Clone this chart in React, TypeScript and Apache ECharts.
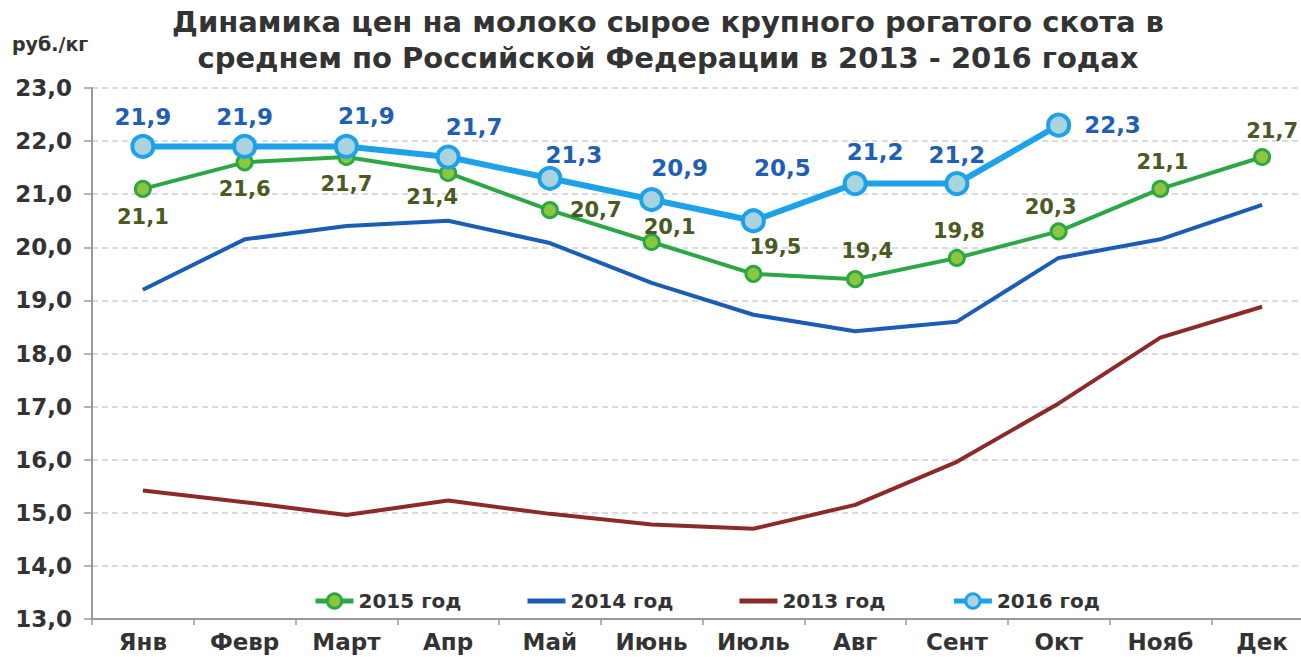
import React, { useEffect, useRef } from "react";
import * as echarts from "echarts";

const months = ["Янв", "Февр", "Март", "Апр", "Май", "Июнь", "Июль", "Авг", "Сент", "Окт", "Нояб", "Дек"];
const y2016 = [21.9, 21.9, 21.9, 21.7, 21.3, 20.9, 20.5, 21.2, 21.2, 22.3];
const y2015 = [21.1, 21.6, 21.7, 21.4, 20.7, 20.1, 19.5, 19.4, 19.8, 20.3, 21.1, 21.7];
const y2014 = [19.2, 20.15, 20.4, 20.5, 20.08, 19.33, 18.73, 18.42, 18.6, 19.8, 20.15, 20.8];
const y2013 = [15.42, 15.2, 14.96, 15.23, 14.98, 14.78, 14.7, 15.15, 15.96, 17.06, 18.3, 18.88];
const yTicks = { min: 13, max: 23, step: 1 };

// label placements (styling only)
const lab2016: [string, number, number][] = [
  ["top", 0, 0], ["top", 0, 0], ["top", 20, -1], ["top", 26, -1], ["top", 24, 6],
  ["top", 28, -3], ["top", 29, -24], ["top", 20, -3], ["top", 0, 0], ["right", 8, 0],
];
const lab2015: [string, number, number][] = [
  ["bottom", 0, 4], ["bottom", 0, 2], ["bottom", 0, 2], ["bottom", -16, 0], ["right", 6, 0],
  ["top", 18, 10], ["top", 22, -2], ["top", 12, -4], ["top", 2, -2], ["top", -8, 0],
  ["top", 2, -2], ["top", 10, -2],
];

const fmt = (v: number) => v.toFixed(1).replace(".", ",");
const FONT = "DejaVu Sans";
const bar = "path://M0,0H38V5H0Z";

export default function App() {
  const ref = useRef<HTMLDivElement>(null);
  useEffect(() => {
    if (!ref.current) return;
    const chart = echarts.init(ref.current, undefined, { renderer: "svg" });
    const lbl = (arr: [string, number, number][], color: string, size: number) => (v: number, i: number) => ({
      value: v,
      label: {
        show: true,
        position: arr[i][0],
        offset: [arr[i][1], arr[i][2]],
        color,
        fontSize: size,
        fontWeight: "bold",
        fontFamily: FONT,
        formatter: (p: any) => fmt(p.value),
      },
    });
    chart.setOption({
      animation: false,
      backgroundColor: "#ffffff",
      textStyle: { fontFamily: FONT },
      graphic: [
        {
          type: "text",
          x: 668,
          y: 4,
          style: {
            text: "Динамика цен на молоко сырое крупного рогатого скота в\nсреднем по Российской Федерации в 2013 - 2016 годах",
            font: `bold 29px '${FONT}'`,
            fill: "#333333",
            textAlign: "center",
            lineHeight: 36,
          },
        },
        {
          type: "text",
          x: 12,
          y: 34,
          style: { text: "руб./кг", font: `bold 19px '${FONT}'`, fill: "#333333" },
        },
      ],
      grid: { left: 92, top: 88, width: 1221, height: 531 },
      legend: {
        data: [
          { name: "2015 год", lineStyle: { width: 5 }, itemStyle: { borderWidth: 3 } },
          { name: "2014 год", icon: bar },
          { name: "2013 год", icon: bar },
          { name: "2016 год", lineStyle: { width: 5 }, itemStyle: { borderWidth: 3 } },
        ],
        left: 308,
        top: 586,
        itemWidth: 38,
        itemHeight: 18,
        itemGap: 66,
        textStyle: { fontSize: 20, fontWeight: "bold", color: "#333333", fontFamily: FONT },
      },
      xAxis: {
        type: "category",
        data: months,
        boundaryGap: true,
        axisLine: { lineStyle: { color: "#999999", width: 2 } },
        axisTick: { show: true, length: 6, lineStyle: { color: "#999999", width: 1.5 } },
        axisLabel: { color: "#333333", fontSize: 23, fontWeight: "bold", fontFamily: FONT, margin: 11 },
      },
      yAxis: {
        type: "value",
        min: yTicks.min,
        max: yTicks.max,
        interval: yTicks.step,
        axisLine: { show: true, lineStyle: { color: "#999999", width: 2 } },
        axisTick: { show: true, length: 8, lineStyle: { color: "#999999", width: 1.5 } },
        axisLabel: { color: "#333333", fontSize: 23, fontWeight: "bold", fontFamily: FONT, margin: 20, formatter: (v: number) => fmt(v) },
        splitLine: { show: true, lineStyle: { color: "#cfcfcf", type: [6, 4], width: 1.5 } },
      },
      series: [
        {
          name: "2014 год",
          type: "line",
          data: y2014,
          symbol: "none",
          lineStyle: { color: "#1b5db5", width: 4 },
          itemStyle: { color: "#1b5db5" },
          z: 2,
        },
        {
          name: "2013 год",
          type: "line",
          data: y2013,
          symbol: "none",
          lineStyle: { color: "#8c2a2a", width: 4 },
          itemStyle: { color: "#8c2a2a" },
          z: 2,
        },
        {
          name: "2015 год",
          type: "line",
          data: y2015.map(lbl(lab2015, "#4b5a22", 21)),
          symbol: "circle",
          symbolSize: 15,
          lineStyle: { color: "#2ba843", width: 4 },
          itemStyle: { color: "#8cc63e", borderColor: "#2ba843", borderWidth: 3 },
          z: 3,
        },
        {
          name: "2016 год",
          type: "line",
          data: y2016.map(lbl(lab2016, "#1f5fb5", 23)),
          symbol: "circle",
          symbolSize: 21,
          lineStyle: { color: "#1da2ea", width: 6 },
          itemStyle: { color: "#a8d3df", borderColor: "#1da2ea", borderWidth: 4 },
          z: 4,
        },
      ],
    });
    return () => chart.dispose();
  }, []);
  return (
    <div style={{ position: "fixed", left: 0, top: 0, width: 1301, height: 657, overflow: "hidden", background: "#fff" }}>
      <div ref={ref} style={{ position: "absolute", left: 0, top: 0, width: 1330, height: 657 }} />
    </div>
  );
}
